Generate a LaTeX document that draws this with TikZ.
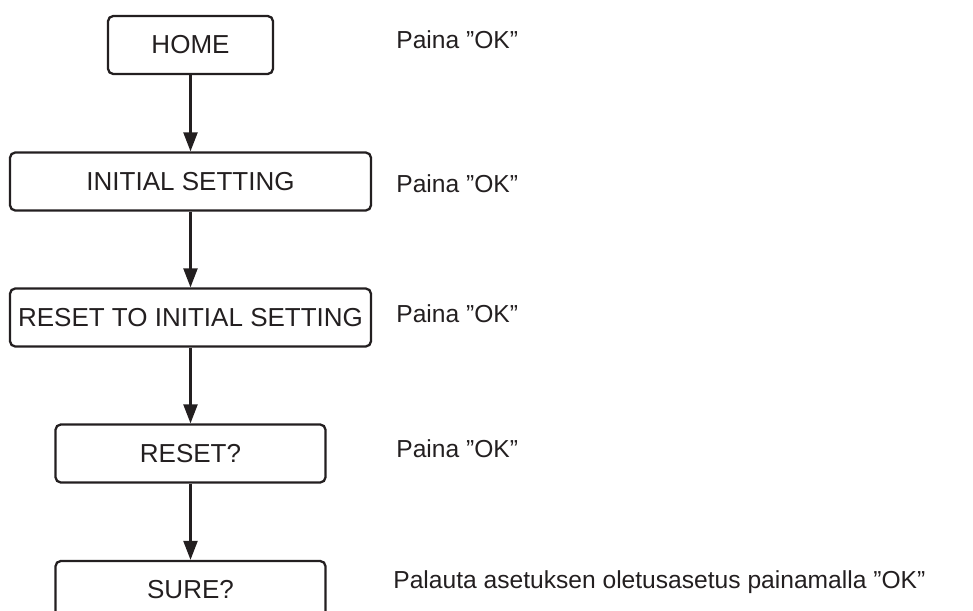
\documentclass[tikz,border=0pt]{standalone}
\usepackage{fontspec}
\setmainfont{Liberation Sans}
\usetikzlibrary{arrows.meta}
\definecolor{inkblack}{RGB}{35,31,32}

\begin{document}
\begin{tikzpicture}[
  font=\fontsize{14pt}{16pt}\selectfont,
  menubox/.style={draw=inkblack, text=inkblack, line width=1.3pt,
    rounded corners=3pt, minimum height=1.16cm, inner sep=0pt,
    font=\fontsize{14.8pt}{17pt}\selectfont},
  flowarrow/.style={-{Triangle[length=3.8mm, width=2.8mm]}, line width=1.3pt, inkblack},
  note/.style={anchor=west, text=inkblack, inner sep=0pt},
]
\useasboundingbox (0,0) rectangle (19.46,12.2);

% -------------------------------------------------------------------------
% Menu path, top to bottom.
% -------------------------------------------------------------------------
\node[menubox, minimum width=3.30cm] (home)      at (3.81,11.30) {HOME};
\node[menubox, minimum width=7.22cm] (initset)   at (3.81,8.57)  {INITIAL SETTING};
\node[menubox, minimum width=7.22cm] (resetinit) at (3.81,5.85)  {RESET TO INITIAL SETTING};
\node[menubox, minimum width=5.40cm] (reset)     at (3.81,3.13)  {RESET?};
\node[menubox, minimum width=5.40cm] (sure)      at (3.81,0.40)  {SURE?};

\draw[flowarrow] (home) -- (initset);
\draw[flowarrow] (initset) -- (resetinit);
\draw[flowarrow] (resetinit) -- (reset);
\draw[flowarrow] (reset) -- (sure);

% -------------------------------------------------------------------------
% Instructions beside each step.
% -------------------------------------------------------------------------
\node[note] (homenote)      at (7.92,11.40) {Paina ”OK”};
\node[note] (initsetnote)   at (7.92,8.52)  {Paina ”OK”};
\node[note] (resetinitnote) at (7.92,5.92)  {Paina ”OK”};
\node[note] (resetnote)     at (7.92,3.22)  {Paina ”OK”};
\node[note] (surenote)      at (7.86,0.56)
  {Palauta asetuksen oletusasetus painamalla ”OK”};

\end{tikzpicture}
\end{document}
